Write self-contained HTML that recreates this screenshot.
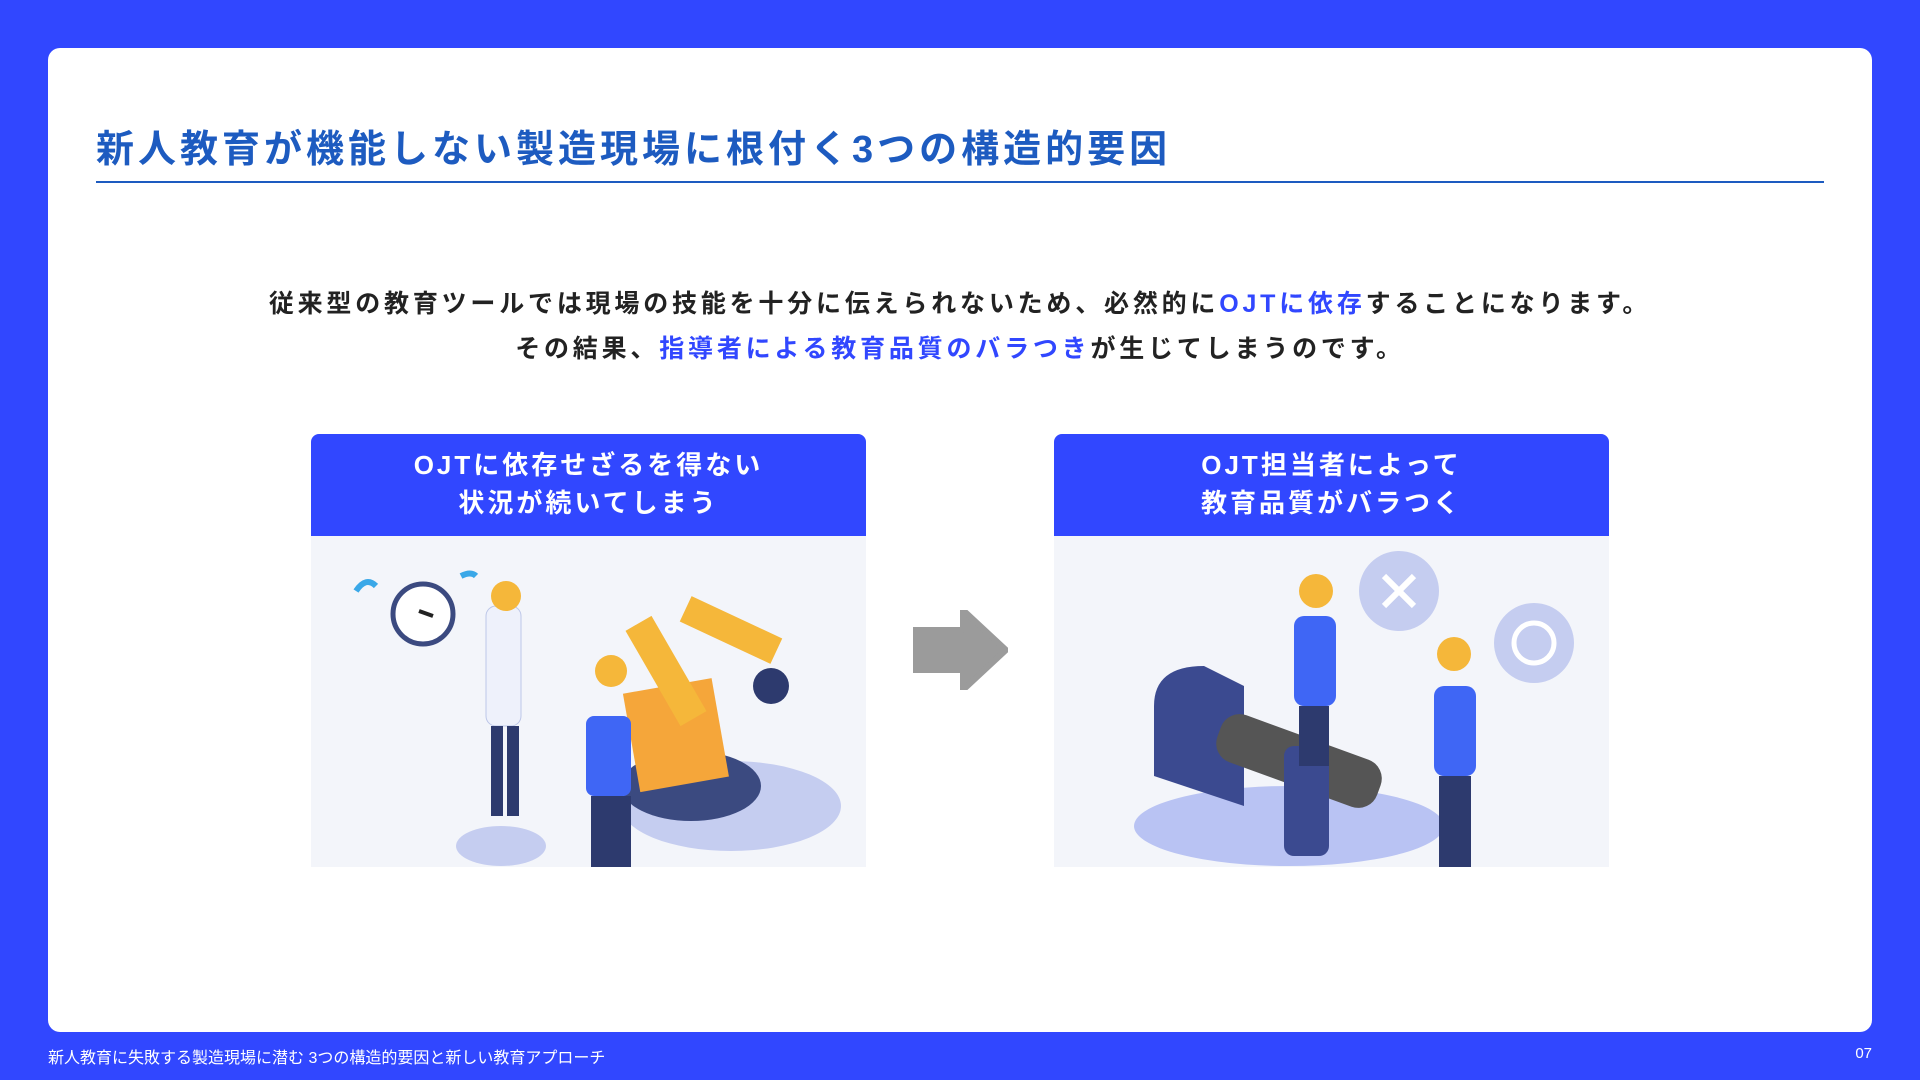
<!DOCTYPE html>
<html><head><meta charset="utf-8"><style>
*{margin:0;padding:0;box-sizing:border-box}
body{width:1920px;height:1080px;background:#3147ff;font-family:"Liberation Sans","Noto Sans CJK JP",sans-serif;position:relative;overflow:hidden}
.card{position:absolute;left:48px;top:48px;width:1824px;height:984px;background:#fff;border-radius:12px}
.title{position:absolute;left:96px;top:118px;font-size:38px;font-weight:bold;color:#1d5bc0;letter-spacing:4px}
.rule{position:absolute;left:96px;top:181px;width:1728px;height:2px;background:#1d5bc0}
.para{position:absolute;left:0;width:1920px;text-align:center;font-size:25px;font-weight:bold;color:#222;letter-spacing:3.8px}
.hl{color:#3147ff}
.box{position:absolute;top:434px;width:555px;height:433px;background:#f3f5fa;border-radius:8px 8px 0 0;overflow:hidden}
.hd{height:102px;background:#3147ff;color:#fff;font-size:26px;font-weight:bold;text-align:center;line-height:38px;padding-top:12px;letter-spacing:3px}
.foot{position:absolute;left:48px;top:1044px;font-size:16px;color:#fff}
.pg{position:absolute;right:48px;top:1045px;font-size:15px;color:#fff}
</style></head><body>
<div class="card"></div>
<div class="title">新人教育が機能しない製造現場に根付く3つの構造的要因</div>
<div class="rule"></div>
<div class="para" style="top:284px">従来型の教育ツールでは現場の技能を十分に伝えられないため、必然的に<span class="hl">OJTに依存</span>することになります。</div>
<div class="para" style="top:329px">その結果、<span class="hl">指導者による教育品質のバラつき</span>が生じてしまうのです。</div>

<div class="box" style="left:311px">
<div class="hd">OJTに依存せざるを得ない<br>状況が続いてしまう</div>
<svg width="555" height="331" viewBox="0 0 555 331">
<ellipse cx="190" cy="310" rx="45" ry="20" fill="#c5cdf0"/>
<circle cx="112" cy="78" r="30" fill="#fff" stroke="#3b4a80" stroke-width="5"/>
<path d="M108 75 L122 80" stroke="#222" stroke-width="4"/>
<path d="M45 55 q10 -15 20 -5 M150 40 q10 -5 15 0" stroke="#3aa8e8" stroke-width="6" fill="none"/>
<rect x="175" y="70" width="35" height="120" rx="10" fill="#eef1fb" stroke="#bcc6e8"/>
<rect x="180" y="190" width="12" height="90" fill="#2d3a6e"/><rect x="196" y="190" width="12" height="90" fill="#2d3a6e"/>
<circle cx="195" cy="60" r="15" fill="#f5b73a"/>
<ellipse cx="420" cy="270" rx="110" ry="45" fill="#c5cdf0"/>
<ellipse cx="380" cy="250" rx="70" ry="35" fill="#3b4a80"/>
<rect x="320" y="150" width="90" height="100" fill="#f5a63a" transform="rotate(-10 360 200)"/>
<rect x="340" y="80" width="30" height="110" fill="#f5b73a" transform="rotate(-30 355 135)"/>
<rect x="370" y="80" width="100" height="28" fill="#f5b73a" transform="rotate(25 420 94)"/>
<circle cx="460" cy="150" r="18" fill="#2d3a6e"/>
<rect x="275" y="180" width="45" height="80" rx="8" fill="#3f66f5"/>
<rect x="280" y="260" width="40" height="71" fill="#2d3a6e"/>
<circle cx="300" cy="135" r="16" fill="#f5b73a"/>
</svg>
</div>

<svg style="position:absolute;left:913px;top:610px" width="95" height="80" viewBox="0 0 95 80">
<polygon points="0,20 50,20 50,0 93,40 50,80 50,60 0,60" fill="#9b9b9b" stroke="#9b9b9b" stroke-linejoin="round" stroke-width="6"/>
</svg>

<div class="box" style="left:1054px">
<div class="hd">OJT担当者によって<br>教育品質がバラつく</div>
<svg width="555" height="331" viewBox="0 0 555 331">
<ellipse cx="235" cy="290" rx="155" ry="40" fill="#b9c3f3"/>
<path d="M100 170 q0 -40 50 -40 l40 20 v120 l-90 -30z" fill="#3b4a90"/>
<rect x="160" y="200" width="170" height="50" rx="20" fill="#555" transform="rotate(20 245 225)"/>
<rect x="230" y="210" width="45" height="110" rx="10" fill="#3b4a90"/>
<rect x="240" y="80" width="42" height="90" rx="10" fill="#3f66f5"/>
<rect x="245" y="170" width="30" height="60" fill="#2d3a6e"/>
<circle cx="262" cy="55" r="17" fill="#f5b73a"/>
<rect x="380" y="150" width="42" height="90" rx="10" fill="#3f66f5"/>
<rect x="385" y="240" width="32" height="91" fill="#2d3a6e"/>
<circle cx="400" cy="118" r="17" fill="#f5b73a"/>
<circle cx="345" cy="55" r="40" fill="#c5cdf0"/>
<path d="M330 40 l30 30 M360 40 l-30 30" stroke="#fff" stroke-width="6"/>
<circle cx="480" cy="107" r="40" fill="#c5cdf0"/>
<circle cx="480" cy="107" r="20" fill="none" stroke="#fff" stroke-width="5"/>
</svg>
</div>

<div class="foot">新人教育に失敗する製造現場に潜む 3つの構造的要因と新しい教育アプローチ</div>
<div class="pg">07</div>
</body></html>
